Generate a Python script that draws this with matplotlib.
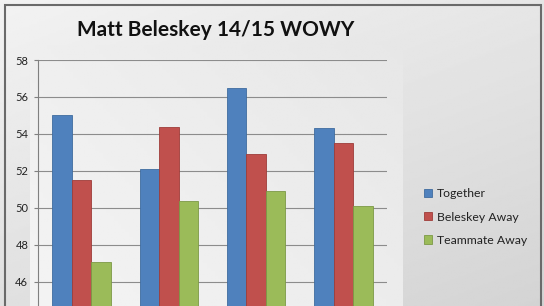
import numpy as np
import matplotlib
matplotlib.use("Agg")
import matplotlib.pyplot as plt
from matplotlib.patches import Rectangle

plt.rcParams['font.family'] = ['Lato', 'DejaVu Sans']

# data
groups = ["1", "2", "3", "4"]
together = [55.0, 52.1, 56.5, 54.3]
beleskey_away = [51.5, 54.4, 52.9, 53.5]
teammate_away = [47.1, 50.4, 50.9, 50.1]
series_names = ["Together", "Beleskey Away", "Teammate Away"]
colors = ["#4F81BD", "#C0504D", "#9BBB59"]
edges = ["#3F6C9F", "#9E3C39", "#7C9946"]
y_ticks = [46, 48, 50, 52, 54, 56, 58]

fig = plt.figure(figsize=(5.44, 3.06), dpi=100)

# grey gradient background
bg = fig.add_axes([0, 0, 1, 1], zorder=-2)
gx, gy = np.meshgrid(np.linspace(0, 1, 200), np.linspace(0, 1, 200))
grad = 0.95 - 0.12 * (0.4 * gx + 0.6 * gy)
bg.imshow(grad, cmap="gray", vmin=0, vmax=1, aspect="auto", extent=[0, 1, 0, 1])
bg.set_xlim(0, 1)
bg.set_ylim(0, 1)
bg.axis("off")

# plot area panel (slightly lighter)
panel = fig.add_axes([30 / 544, 0, 373 / 544, 1 - 45 / 306], zorder=-1)
pgx, pgy = np.meshgrid(np.linspace(0, 1, 100), np.linspace(0, 1, 100))
pgrad = 0.935 - 0.03 * pgx + 0.02 * pgy
panel.imshow(pgrad, cmap="gray", vmin=0, vmax=1, aspect="auto", extent=[0, 1, 0, 1])
panel.axis("off")

ax = fig.add_axes([38 / 544, 0, 349 / 544, 1 - 60 / 306])
ax.patch.set_alpha(0)

x = np.arange(len(groups))
w = 0.224
for i, vals in enumerate([together, beleskey_away, teammate_away]):
    ax.bar(x + (i - 1) * w, vals, width=w, color=colors[i], edgecolor=edges[i],
           linewidth=0.6, label=series_names[i], zorder=3)

ax.set_xlim(-0.5, len(groups) - 0.5)
ax.set_ylim(44.7, 58)
ax.set_yticks(y_ticks)
ax.tick_params(axis="y", labelsize=8, length=3, color="#808080", pad=4, labelcolor="#222222")
ax.tick_params(axis="x", bottom=False, labelbottom=False)
ax.yaxis.grid(True, color="#8c8c8c", linewidth=0.8, zorder=0)
for s in ["top", "right", "bottom"]:
    ax.spines[s].set_visible(False)
ax.spines["left"].set_color("#808080")

fig.text(216 / 544, 1 - 30 / 306, "Matt Beleskey 14/15 WOWY", ha="center", va="center",
         fontsize=15, fontweight="bold", color="#111111")

leg = fig.legend(loc="center left", bbox_to_anchor=(413 / 544, 1 - 217 / 306),
                 frameon=False, fontsize=8.8, handlelength=0.65, handleheight=0.65,
                 handletextpad=0.4, labelspacing=1.0)
for t in leg.get_texts():
    t.set_color("#222222")

# outer border
fig.patches.append(Rectangle((5 / 544, -0.05), 536 / 544, 1.05 - 5 / 306,
                             transform=fig.transFigure, fill=False,
                             edgecolor="#6a6a6a", linewidth=1.5))

fig.savefig("out.png", dpi=100)
